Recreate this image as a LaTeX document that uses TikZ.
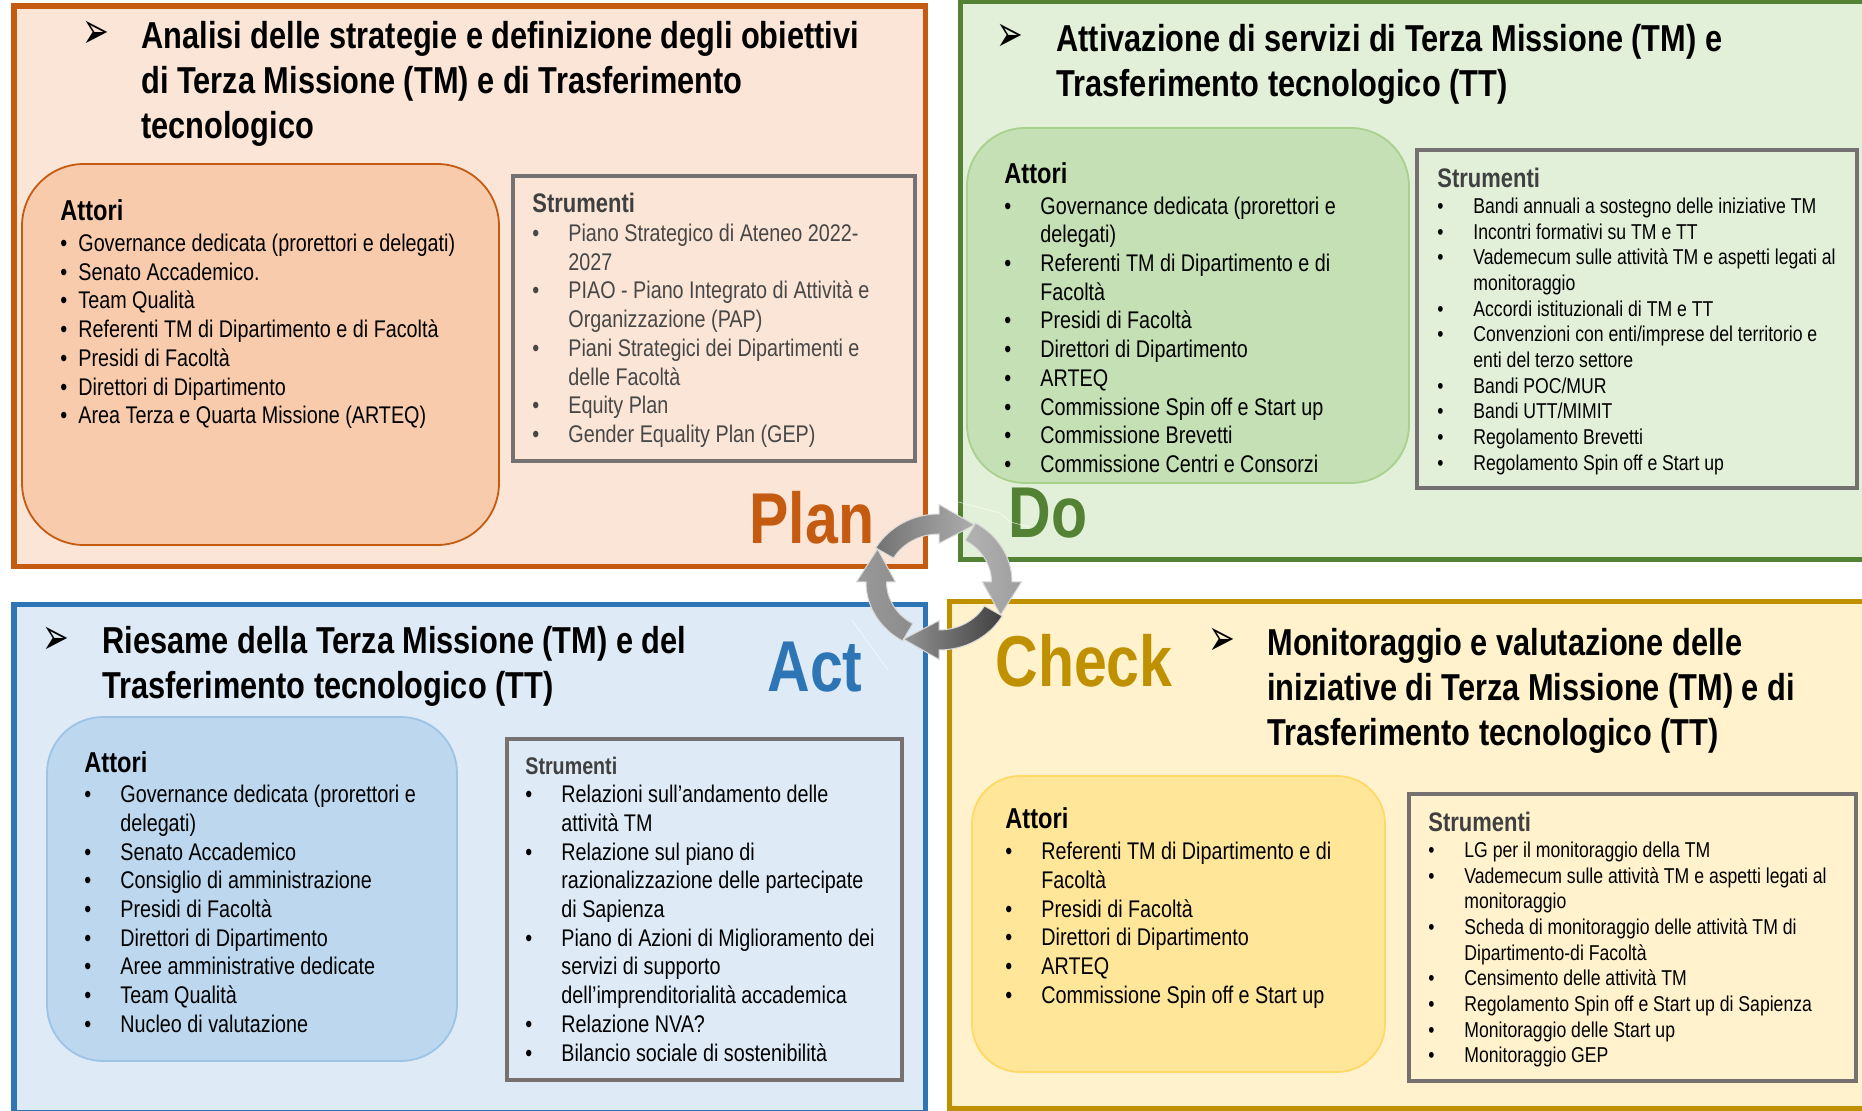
\documentclass[tikz,border=0pt]{standalone}
\usepackage{fontspec}
\setmainfont{Liberation Sans}[FakeStretch=0.82]
\newfontfamily\symfont{DejaVu Sans}
\usetikzlibrary{positioning}

\definecolor{planline}{HTML}{C55A11}
\definecolor{planfill}{HTML}{FBE5D6}
\definecolor{planact}{HTML}{F8CBAD}
\definecolor{doline}{HTML}{548235}
\definecolor{dofill}{HTML}{E2F0D9}
\definecolor{doact}{HTML}{C5E0B4}
\definecolor{doedge}{HTML}{A9D18E}
\definecolor{actline}{HTML}{2E75B6}
\definecolor{actfill}{HTML}{DEEBF7}
\definecolor{actact}{HTML}{BDD7EE}
\definecolor{actedge}{HTML}{9DC3E6}
\definecolor{checkline}{HTML}{BF9000}
\definecolor{checkfill}{HTML}{FFF2CC}
\definecolor{checkact}{HTML}{FFE699}
\definecolor{checkedge}{HTML}{FFD966}
\definecolor{toolline}{HTML}{767171}

\newcommand{\itm}[1]{\strut\makebox[18pt][l]{\textbullet}#1}
\newcommand{\cnt}[1]{\strut\hspace*{18pt}#1}
\newcommand{\tightitm}[1]{\strut\makebox[9pt][l]{\textbullet}#1}

\begin{document}
\begin{tikzpicture}[
    x=0.5pt, y=-0.5pt,
    panel/.style={draw, rectangle, anchor=north west, inner sep=0pt, outer sep=0pt, line width=2.8pt},
    actorbox/.style={draw, rectangle, anchor=north west, inner sep=0pt, outer sep=0pt, line width=0.9pt},
    toolbox/.style={draw=toolline, rectangle, anchor=north west, inner sep=0pt, outer sep=0pt, line width=2.2pt},
    heading/.style={anchor=north west, align=left, inner sep=0pt, font=\bfseries\fontsize{18.75}{22.5}\selectfont},
    pointer/.style={inner sep=0pt, font=\symfont\fontsize{16}{16}\selectfont},
    listtitle/.style={anchor=base west, inner sep=0pt, font=\bfseries\fontsize{14.4}{14}\selectfont},
    tooltitle/.style={anchor=base west, inner sep=0pt, text=black!75, font=\bfseries\fontsize{13.4}{14}\selectfont},
    biglist/.style={anchor=north west, align=left, inner sep=0pt, font=\fontsize{12.05}{14.37}\selectfont},
    smalllist/.style={anchor=north west, align=left, inner sep=0pt, font=\fontsize{10.75}{12.85}\selectfont},
    phase/.style={anchor=base west, inner sep=0pt, font=\bfseries\fontsize{36}{40}\selectfont},
    cyclearrow/.style={draw=black!15, line width=0.5pt},
    scratch/.style={white, line width=0.3pt, opacity=0.7}
]
\useasboundingbox (0,0) rectangle (1862,1111);
\clip (0,0) rectangle (1862,1111);

% quadrants
\node[panel, draw=planline, fill=planfill, minimum width=455.75pt, minimum height=280.25pt] (plan) at (14,6) {};
\node[panel, draw=doline, fill=dofill, minimum width=454.75pt, minimum height=279.25pt] (do) at (960.5,1) {};
\node[panel, draw=actline, fill=actfill, minimum width=455.75pt, minimum height=254.25pt] (act) at (14,604.5) {};
\node[panel, draw=checkline, fill=checkfill, minimum width=460pt, minimum height=253.75pt] (check) at (949.5,601.5) {};

% Plan
\node[pointer] (planpointer) at (96,35) {\scalebox{1}[1.6]{➢}};
\node[heading] (planhead) at (141,16.5) {\strut Analisi delle strategie e definizione degli obiettivi\\\strut di Terza Missione (TM) e di Trasferimento\\\strut tecnologico};
\node[actorbox, draw=planline, fill=planact, minimum width=238.5pt, minimum height=190.5pt, rounded corners=31pt] (planactors) at (22,164) {};
\node[listtitle] (planattori) at (60,221) {Attori};
\node[biglist] (planlist) at (60,231) {\tightitm{Governance dedicata (prorettori e delegati)}\\
    \tightitm{Senato Accademico.}\\
    \tightitm{Team Qualità}\\
    \tightitm{Referenti TM di Dipartimento e di Facoltà}\\
    \tightitm{Presidi di Facoltà}\\
    \tightitm{Direttori di Dipartimento}\\
    \tightitm{Area Terza e Quarta Missione (ARTEQ)}};
\node[toolbox, minimum width=201pt, minimum height=142.5pt] (plantools) at (513,176) {};
\node[tooltitle] (planstrumenti) at (532,213) {Strumenti};
\node[biglist, text=black!72] (plantoollist) at (532,221) {\itm{Piano Strategico di Ateneo 2022-}\\
    \cnt{2027}\\
    \itm{PIAO - Piano Integrato di Attività e}\\
    \cnt{Organizzazione (PAP)}\\
    \itm{Piani Strategici dei Dipartimenti e}\\
    \cnt{delle Facoltà}\\
    \itm{Equity Plan}\\
    \itm{Gender Equality Plan (GEP)}};

% Do
\node[pointer] (dopointer) at (1010,38) {\scalebox{1}[1.6]{➢}};
\node[heading] (dohead) at (1056,20) {\strut Attivazione di servizi di Terza Missione (TM) e\\\strut Trasferimento tecnologico (TT)};
\node[actorbox, draw=doedge, fill=doact, minimum width=221pt, minimum height=177.5pt, rounded corners=29pt] (doactors) at (967,128) {};
\node[listtitle] (doattori) at (1004,184) {Attori};
\node[biglist] (dolist) at (1004,193.5) {\itm{Governance dedicata (prorettori e}\\
    \cnt{delegati)}\\
    \itm{Referenti TM di Dipartimento e di}\\
    \cnt{Facoltà}\\
    \itm{Presidi di Facoltà}\\
    \itm{Direttori di Dipartimento}\\
    \itm{ARTEQ}\\
    \itm{Commissione Spin off e Start up}\\
    \itm{Commissione Brevetti}\\
    \itm{Commissione Centri e Consorzi}};
\node[toolbox, minimum width=220pt, minimum height=169pt] (dotools) at (1417,150) {};
\node[tooltitle] (dostrumenti) at (1437,188) {Strumenti};
\node[smalllist] (dotoollist) at (1437,195) {\itm{Bandi annuali a sostegno delle iniziative TM}\\
    \itm{Incontri formativi su TM e TT}\\
    \itm{Vademecum sulle attività TM e aspetti legati al}\\
    \cnt{monitoraggio}\\
    \itm{Accordi istituzionali di TM e TT}\\
    \itm{Convenzioni con enti/imprese del territorio e}\\
    \cnt{enti del terzo settore}\\
    \itm{Bandi POC/MUR}\\
    \itm{Bandi UTT/MIMIT}\\
    \itm{Regolamento Brevetti}\\
    \itm{Regolamento Spin off e Start up}};

% Act
\node[pointer] (actpointer) at (56,641) {\scalebox{1}[1.6]{➢}};
\node[heading] (acthead) at (102,622) {\strut Riesame della Terza Missione (TM) e del\\\strut Trasferimento tecnologico (TT)};
\node[actorbox, draw=actedge, fill=actact, minimum width=205pt, minimum height=172pt, rounded corners=28pt] (actactors) at (47,717) {};
\node[listtitle] (actattori) at (84,772) {Attori};
\node[biglist] (actlist) at (84,782) {\itm{Governance dedicata (prorettori e}\\
    \cnt{delegati)}\\
    \itm{Senato Accademico}\\
    \itm{Consiglio di amministrazione}\\
    \itm{Presidi di Facoltà}\\
    \itm{Direttori di Dipartimento}\\
    \itm{Aree amministrative dedicate}\\
    \itm{Team Qualità}\\
    \itm{Nucleo di valutazione}};
\node[toolbox, minimum width=197.5pt, minimum height=170.5pt] (acttools) at (507,739) {};
\node[tooltitle, font=\bfseries\fontsize{12}{14}\selectfont] (actstrumenti) at (525,774) {Strumenti};
\node[biglist] (acttoollist) at (525,782) {\itm{Relazioni sull’andamento delle}\\
    \cnt{attività TM}\\
    \itm{Relazione sul piano di}\\
    \cnt{razionalizzazione delle partecipate}\\
    \cnt{di Sapienza}\\
    \itm{Piano di Azioni di Miglioramento dei}\\
    \cnt{servizi di supporto}\\
    \cnt{dell’imprenditorialità accademica}\\
    \itm{Relazione NVA?}\\
    \itm{Bilancio sociale di sostenibilità}};

% Check
\node[pointer] (checkpointer) at (1222,642) {\scalebox{1}[1.6]{➢}};
\node[heading] (checkhead) at (1267,623.5) {\strut Monitoraggio e valutazione delle\\\strut iniziative di Terza Missione (TM) e di\\\strut Trasferimento tecnologico (TT)};
\node[actorbox, draw=checkedge, fill=checkact, minimum width=206.5pt, minimum height=148pt, rounded corners=24pt] (checkactors) at (972,776) {};
\node[listtitle] (checkattori) at (1005,828) {Attori};
\node[biglist] (checklist) at (1005,839) {\itm{Referenti TM di Dipartimento e di}\\
    \cnt{Facoltà}\\
    \itm{Presidi di Facoltà}\\
    \itm{Direttori di Dipartimento}\\
    \itm{ARTEQ}\\
    \itm{Commissione Spin off e Start up}};
\node[toolbox, minimum width=223.5pt, minimum height=143.5pt] (checktools) at (1409,794) {};
\node[tooltitle] (checkstrumenti) at (1428,831) {Strumenti};
\node[smalllist] (checktoollist) at (1428,839) {\itm{LG per il monitoraggio della TM}\\
    \itm{Vademecum sulle attività TM e aspetti legati al}\\
    \cnt{monitoraggio}\\
    \itm{Scheda di monitoraggio delle attività TM di}\\
    \cnt{Dipartimento-di Facoltà}\\
    \itm{Censimento delle attività TM}\\
    \itm{Regolamento Spin off e Start up di Sapienza}\\
    \itm{Monitoraggio delle Start up}\\
    \itm{Monitoraggio GEP}};

% phase names
\node[phase, text=planline] (planname) at (749,544) {Plan};
\node[phase, text=doline] (doname) at (1008,538) {Do};
\node[phase, text=actline] (actname) at (767,691) {Act};
\node[phase, text=checkline] (checkname) at (995,686) {Check};

% faint marks beside the cycle
\coordinate (scratcha) at (932,495);
\coordinate (scratchb) at (1000,513);
\coordinate (scratchc) at (1010,522);
\coordinate (scratchd) at (1030,527);
\coordinate (scratche) at (852,620);
\coordinate (scratchf) at (888,670);
\draw[scratch] (scratcha) -- (scratchb) -- (scratchc) -- (scratchd);
\draw[scratch] (scratche) -- (scratchf);

% cycle in the middle
\begin{scope}[shift={(939,582)}, y=0.5pt]
\foreach \ang/\lft/\rgt in {150/black!55/black!32, 60/black!30/black!38, -30/black!42/black!75, -120/black!40/black!45} {
    \pgfmathsetmacro{\bse}{\ang-60}
    \pgfmathsetmacro{\tip}{\ang-90}
    \shade[cyclearrow, left color=\lft, right color=\rgt]
        (\ang:73 and 68) arc[start angle=\ang, end angle=\bse, x radius=73, y radius=68]
        -- (\bse:82.5 and 77.5) -- (\tip:71 and 66) -- (\bse:43.5 and 38.7)
        -- (\bse:52.5 and 48) arc[start angle=\bse, end angle=\ang, x radius=52.5, y radius=48]
        -- cycle;
}
\end{scope}

\end{tikzpicture}
\end{document}
